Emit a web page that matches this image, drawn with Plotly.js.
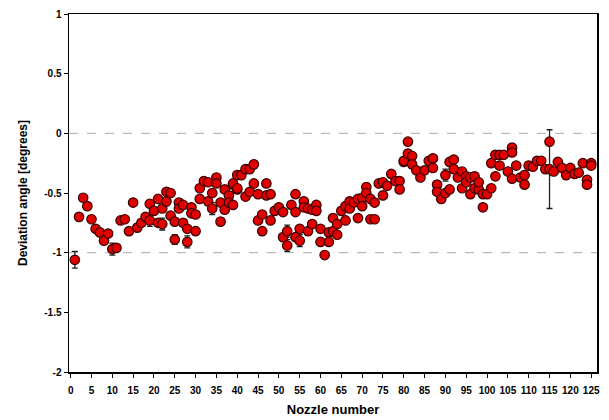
<!DOCTYPE html>
<html><head><meta charset="utf-8">
<script src="https://cdn.plot.ly/plotly-3.0.1.min.js"></script>
<style>html,body{margin:0;padding:0;background:#fff}#c{width:609px;height:420px}</style>
</head><body><div id="c"></div>
<script>
const nozzle = [1,2,3,4,5,6,7,8,9,10,11,12,13,14,15,16,17,18,19,19,20,21,21,22,22,23,23,24,24,25,25,26,26,27,27,28,28,29,29,30,30,31,31,32,33,33,34,34,35,35,36,36,37,37,38,38,39,39,39,40,40,40,41,42,42,43,43,44,44,45,45,46,46,47,47,48,48,49,50,51,51,52,52,53,54,54,54,55,55,56,56,57,57,58,58,59,59,60,60,61,62,62,63,63,64,64,65,66,66,67,67,68,69,69,70,70,71,71,72,72,73,73,74,75,75,76,77,78,79,79,80,80,81,81,82,82,83,84,85,86,87,87,88,88,89,90,90,91,91,92,92,93,94,94,95,95,96,96,97,97,98,98,99,99,100,101,101,102,102,103,103,104,105,106,106,106,107,108,109,109,110,111,112,113,114,115,115,116,117,118,119,120,121,122,123,124,124,125,125];
const deviation = [-1.06,-0.70,-0.54,-0.61,-0.72,-0.80,-0.83,-0.90,-0.84,-0.97,-0.96,-0.73,-0.72,-0.82,-0.58,-0.79,-0.75,-0.70,-0.73,-0.59,-0.65,-0.55,-0.75,-0.63,-0.76,-0.57,-0.49,-0.50,-0.69,-0.74,-0.89,-0.58,-0.63,-0.60,-0.75,-0.80,-0.91,-0.62,-0.67,-0.68,-0.82,-0.55,-0.46,-0.40,-0.41,-0.57,-0.50,-0.63,-0.37,-0.42,-0.74,-0.58,-0.47,-0.64,-0.52,-0.58,-0.43,-0.60,-0.42,-0.47,-0.35,-0.46,-0.35,-0.30,-0.53,-0.30,-0.49,-0.26,-0.42,-0.51,-0.73,-0.68,-0.82,-0.42,-0.52,-0.51,-0.73,-0.65,-0.62,-0.66,-0.87,-0.82,-0.94,-0.60,-0.51,-0.66,-0.87,-0.80,-0.90,-0.57,-0.62,-0.82,-0.63,-0.76,-0.64,-0.60,-0.65,-0.80,-0.91,-1.02,-0.83,-0.91,-0.71,-0.82,-0.76,-0.85,-0.65,-0.73,-0.61,-0.57,-0.63,-0.58,-0.71,-0.55,-0.54,-0.61,-0.45,-0.50,-0.55,-0.72,-0.58,-0.72,-0.42,-0.41,-0.52,-0.44,-0.34,-0.40,-0.40,-0.47,-0.24,-0.23,-0.07,-0.17,-0.19,-0.26,-0.31,-0.37,-0.31,-0.23,-0.21,-0.29,-0.43,-0.49,-0.55,-0.35,-0.50,-0.47,-0.24,-0.22,-0.30,-0.37,-0.32,-0.46,-0.36,-0.41,-0.51,-0.37,-0.36,-0.46,-0.47,-0.41,-0.51,-0.62,-0.51,-0.46,-0.25,-0.36,-0.18,-0.18,-0.27,-0.18,-0.32,-0.12,-0.16,-0.38,-0.27,-0.37,-0.35,-0.43,-0.27,-0.28,-0.23,-0.23,-0.30,-0.07,-0.30,-0.32,-0.24,-0.29,-0.35,-0.29,-0.34,-0.33,-0.25,-0.39,-0.43,-0.25,-0.27];
const errNozzle = [1,10,19,22,25,28,34,52,52,55,90,115];
const errDevs   = [-1.06,-0.97,-0.73,-0.76,-0.89,-0.91,-0.63,-0.82,-0.94,-0.90,-0.35,-0.30];
const errValue  = [0.07,0.05,0.05,0.05,0.04,0.05,0.05,0.05,0.05,0.05,0.05,0.33];
const errors = nozzle.map((n,i)=>{
  for(let k=0;k<errNozzle.length;k++){ if(errNozzle[k]===n && errDevs[k]===deviation[i]) return errValue[k]; }
  return 0.025;
});
const xTicks = []; for(let t=0;t<=125;t+=5) xTicks.push(t);
const yTicks = [-2,-1.5,-1,-0.5,0,0.5,1];
const yTickText = ['-2','-1.5','-1','-0.5','0','0.5','1'];

const trace = {
  x: nozzle, y: deviation, type:'scatter', mode:'markers',
  marker:{size:9.5, color:'#e00000', line:{color:'#3a0000', width:1.2}},
  error_y:{type:'data', array:errors, visible:true, color:'#222', thickness:1.3, width:3},
  hoverinfo:'x+y'
};
const layout = {
  width:609, height:420,
  margin:{l:69, r:12, t:14, b:48},
  paper_bgcolor:'#fff', plot_bgcolor:'#fff',
  showlegend:false,
  font:{family:'Liberation Sans, Arial, sans-serif', color:'#000'},
  xaxis:{range:[-0.4,126.4], tickvals:xTicks, ticktext:xTicks.map(String),
    showgrid:false, zeroline:false, showline:true, linecolor:'#000', linewidth:1.5, mirror:true,
    ticks:'outside', ticklen:4, tickwidth:1, tickcolor:'#000', ticklabelstandoff:4,
    tickfont:{size:10, family:'Liberation Sans, Arial', weight:'bold'},
    title:{text:'<b>Nozzle number</b>', font:{size:13}, standoff:10}},
  yaxis:{range:[-2,1], tickvals:yTicks, ticktext:yTickText,
    showgrid:false, zeroline:false, showline:true, linecolor:'#000', linewidth:1.5, mirror:true,
    ticks:'outside', ticklen:4, tickwidth:1, tickcolor:'#000',
    tickfont:{size:10, family:'Liberation Sans, Arial', weight:'bold'},
    title:{text:'<b>Deviation angle [degrees]</b>', font:{size:12}, standoff:14}},
  shapes:[
    {type:'line', xref:'paper', x0:0, x1:1, yref:'y', y0:0, y1:0, line:{color:'#aaa', width:1, dash:'dash'}, layer:'below'},
    {type:'line', xref:'paper', x0:0, x1:1, yref:'y', y0:-1, y1:-1, line:{color:'#aaa', width:1, dash:'dash'}, layer:'below'}
  ]
};
Plotly.newPlot('c',[trace],layout,{displayModeBar:false, staticPlot:true});
</script></body></html>
